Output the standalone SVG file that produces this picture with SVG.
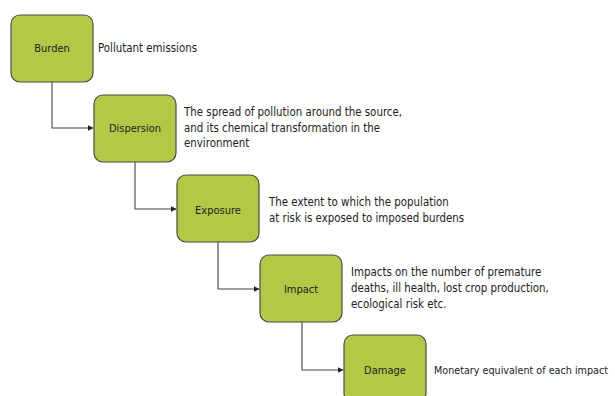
<svg xmlns="http://www.w3.org/2000/svg" width="615" height="396" viewBox="0 0 615 396">
<style>
.box{fill:#b3c845;stroke:#4a4a4a;stroke-width:1.2}
.lbl{font-family:"DejaVu Sans Condensed","DejaVu Sans",sans-serif;font-size:11px;fill:#222;text-anchor:middle}
.desc{font-family:"DejaVu Sans Condensed","DejaVu Sans",sans-serif;font-size:11.4px;fill:#222}
.con{fill:none;stroke:#444;stroke-width:1.1}
</style>
<defs>
<marker id="ah" markerWidth="6" markerHeight="6" refX="5.5" refY="3" orient="auto" markerUnits="userSpaceOnUse">
<path d="M0,0 L6,3 L0,6 Z" fill="#222"/>
</marker>
</defs>
<rect width="615" height="396" fill="#fff"/>
<g id="connectors">
<path class="con" d="M52,82 V128 H93" marker-end="url(#ah)"/>
<path class="con" d="M135,162 V209 H176" marker-end="url(#ah)"/>
<path class="con" d="M218,242 V289 H259" marker-end="url(#ah)"/>
<path class="con" d="M302,322 V370 H343" marker-end="url(#ah)"/>
</g>
<g id="burden">
<rect class="box" x="11" y="15" width="82" height="67" rx="9"/>
<text class="lbl" x="52" y="52">Burden</text>
<text class="desc" x="98" y="52">Pollutant emissions</text>
</g>
<g id="dispersion">
<rect class="box" x="94" y="95" width="82" height="67" rx="9"/>
<text class="lbl" x="135" y="132">Dispersion</text>
<text class="desc" x="184" y="116">The spread of pollution around the source,</text>
<text class="desc" x="184" y="132">and its chemical transformation in the</text>
<text class="desc" x="184" y="147">environment</text>
</g>
<g id="exposure">
<rect class="box" x="177" y="175" width="82" height="67" rx="9"/>
<text class="lbl" x="218" y="214">Exposure</text>
<text class="desc" x="269" y="206">The extent to which the population</text>
<text class="desc" x="269" y="222">at risk is exposed to imposed burdens</text>
</g>
<g id="impact">
<rect class="box" x="260" y="255" width="82" height="67" rx="9"/>
<text class="lbl" x="301" y="293">Impact</text>
<text class="desc" x="351" y="276">Impacts on the number of premature</text>
<text class="desc" x="351" y="292">deaths, ill health, lost crop production,</text>
<text class="desc" x="351" y="308">ecological risk etc.</text>
</g>
<g id="damage">
<rect class="box" x="344" y="335" width="82" height="67" rx="9"/>
<text class="lbl" x="385" y="374">Damage</text>
<text class="desc" x="434" y="374" style="font-size:11px" textLength="174" lengthAdjust="spacingAndGlyphs">Monetary equivalent of each impact</text>
</g>
</svg>
